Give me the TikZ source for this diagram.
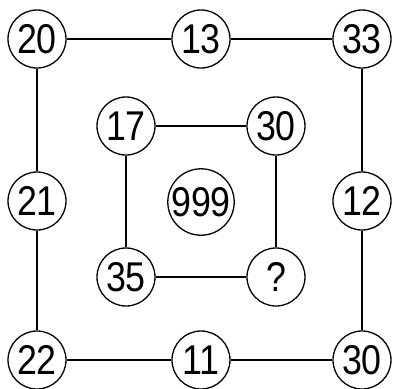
\documentclass[tikz,border=0pt]{standalone}
\usepackage{fontspec}
\usepackage{tikz}
\newfontfamily\numfont{Liberation Sans}[FakeStretch=0.86]

\begin{document}
\begin{tikzpicture}[x=0.5pt,y=-0.5pt,line width=0.65pt,
  num/.style={circle,draw,inner sep=0pt,minimum size=29pt,font=\numfont\fontsize{20.8pt}{22pt}\selectfont}]
  \useasboundingbox (0,0) rectangle (393,388);
  % outer ring
  \node[num] (n20) at (37,39) {20};
  \node[num] (n13) at (201,39) {13};
  \node[num] (n33) at (362,39) {33};
  \node[num] (n21) at (37,201) {21};
  \node[num] (n12) at (362,201) {12};
  \node[num] (n22) at (37,360) {22};
  \node[num] (n11) at (201,360) {11};
  \node[num] (n30b) at (362,360) {30};
  % inner ring
  \node[num] (n17) at (126,126) {17};
  \node[num] (n30a) at (276,126) {30};
  \node[num] (n35) at (126,277) {35};
  \node[num] (nq) at (276,277) {?};
  \node[num] (n999) at (201,202) {999};
  \draw (n20) -- (n13) -- (n33) -- (n12) -- (n30b) -- (n11) -- (n22) -- (n21) -- (n20);
  \draw (n17) -- (n30a) -- (nq) -- (n35) -- (n17);
\end{tikzpicture}
\end{document}
